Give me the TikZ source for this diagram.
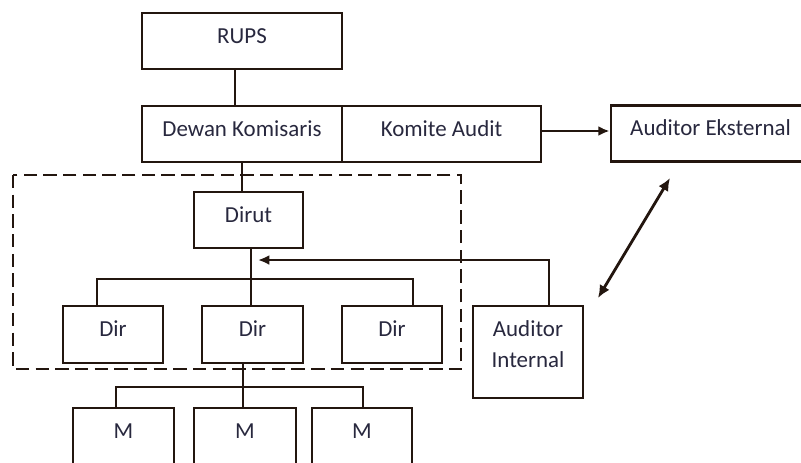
\documentclass[tikz,border=0pt]{standalone}
\usepackage{fontspec}
\setmainfont{Carlito}
\usetikzlibrary{arrows.meta, positioning, calc}
\definecolor{ink}{RGB}{35,22,15}
\definecolor{txt}{RGB}{40,40,62}
\newcommand{\pxu}{0.025cm}
\newcommand{\orgfont}{\fontsize{16.3}{22}\selectfont}

\begin{document}
\begin{tikzpicture}[x=\pxu, y=-\pxu,
    base/.style={draw=ink, line width=2pt, inner sep=0pt, text=txt, font=\orgfont},
    box/.style={base, minimum height=56*\pxu, text height=11pt, text depth=7.5pt},
    link/.style={draw=ink, line width=2pt},
    tip/.style={-{Latex[length=8pt, width=7pt]}}]

    % Canvas
    \useasboundingbox (0,0) rectangle (801,462);
    \fill[white] (0,0) rectangle (801,462);

    % Top level
    \node[box, minimum width=200*\pxu] (rups) at (242,41) {RUPS};
    \node[box, minimum width=200*\pxu] (dewan) at (242,134) {Dewan Komisaris};
    \node[box, minimum width=199*\pxu] (komite) at (441.5,134) {Komite Audit};
    \node[box, minimum width=199*\pxu] (eks) at (710.5,133.5) {Auditor Eksternal};

    % Board of directors
    \draw[ink, line width=1.6pt, dash pattern=on 9.5pt off 4.5pt] (13,175) rectangle (461,369);
    \node[box, minimum width=109*\pxu] (dirut) at (248.5,220) {Dirut};
    \node[box, minimum width=100*\pxu, minimum height=57*\pxu] (dir1) at (113,334.5) {Dir};
    \node[box, minimum width=101*\pxu, minimum height=57*\pxu] (dir2) at (252.5,334.5) {Dir};
    \node[box, minimum width=100*\pxu, minimum height=57*\pxu] (dir3) at (392,334.5) {Dir};

    % Internal audit
    \node[base, minimum width=110*\pxu, minimum height=92*\pxu, align=center,
      text height=33pt, text depth=10.4pt] (aint) at (528,352) {Auditor\\Internal};

    % Managers
    \node[box, minimum width=101*\pxu] (m1) at (123.5,436) {M};
    \node[box, minimum width=102*\pxu] (m2) at (245,436) {M};
    \node[box, minimum width=100*\pxu] (m3) at (362,436) {M};

    % Lines of command
    \draw[link] (rups.south -| 235,0) -- (dewan.north -| 235,0);
    \draw[link] (dewan.south) -- (dewan.south |- dirut.north);
    \draw[link] (dirut.south -| 251,0) -- (dir2.north -| 251,0);
    \draw[link] (dir1.north -| 97,0) |- (413,279) -- (dir3.north -| 413,0);
    \draw[link] (dir2.south -| 243,0) -- (m2.north -| 243,0);
    \draw[link] (m1.north -| 116,0) |- (363,387) -- (m3.north -| 363,0);

    % Reporting
    \draw[link, tip] (aint.north -| 549,0) |- (258,260);
    \draw[link, tip] (komite.east |- 0,131) -- (eks.west |- 0,131);
    \coordinate (ia) at (598,298);
    \coordinate (ea) at (670,178);
    \draw[link, {Latex[length=9pt, width=8pt]}-{Latex[length=9pt, width=8pt]}] (ia) -- (ea);

\end{tikzpicture}
\end{document}
